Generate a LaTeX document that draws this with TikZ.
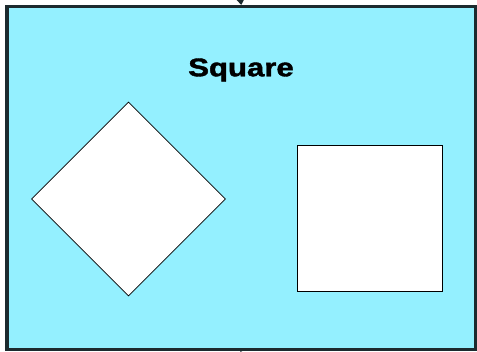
\documentclass[tikz,border=0pt]{standalone}
\usepackage{fontspec}
\setmainfont{Liberation Sans}
\newfontfamily\heavyfont{Liberation Sans Bold}[FakeBold=1.5]
\usetikzlibrary{arrows.meta}
\definecolor{bgcyan}{HTML}{94F0FF}
\definecolor{frame}{HTML}{1C2A2E}
\tikzset{
  shapebox/.style={draw=black, fill=white, line width=0.8pt},
  conn/.style={draw=frame, line width=2pt},
}
\begin{document}
\begin{tikzpicture}[x=1pt,y=-1pt]
\useasboundingbox (0,0) rectangle (477,352);
\fill[white] (0,0) rectangle (477,352);
\node[draw=frame, fill=bgcyan, line width=3.5pt, minimum width=469pt, minimum height=343pt, inner sep=0pt, anchor=north west] (frm) at (5,5) {};
\coordinate (in) at (238,-20);
\coordinate (out) at (238,372);
\draw[conn, -{Triangle[length=6pt,width=8pt]}] (in) -- (frm.north);
\draw[conn] (frm.south) -- (out);
\node[font=\heavyfont\fontsize{25.5}{25.5}\selectfont, xscale=1.22, anchor=center, text=black, inner sep=0pt] (title) at (241,70) {Square};
\node[shapebox, minimum width=137pt, minimum height=137pt, rotate=45, inner sep=0pt] (diam) at (128.5,199) {};
\node[shapebox, minimum width=145pt, minimum height=146pt, inner sep=0pt, anchor=north west] (sq) at (297,145) {};
\end{tikzpicture}
\end{document}
